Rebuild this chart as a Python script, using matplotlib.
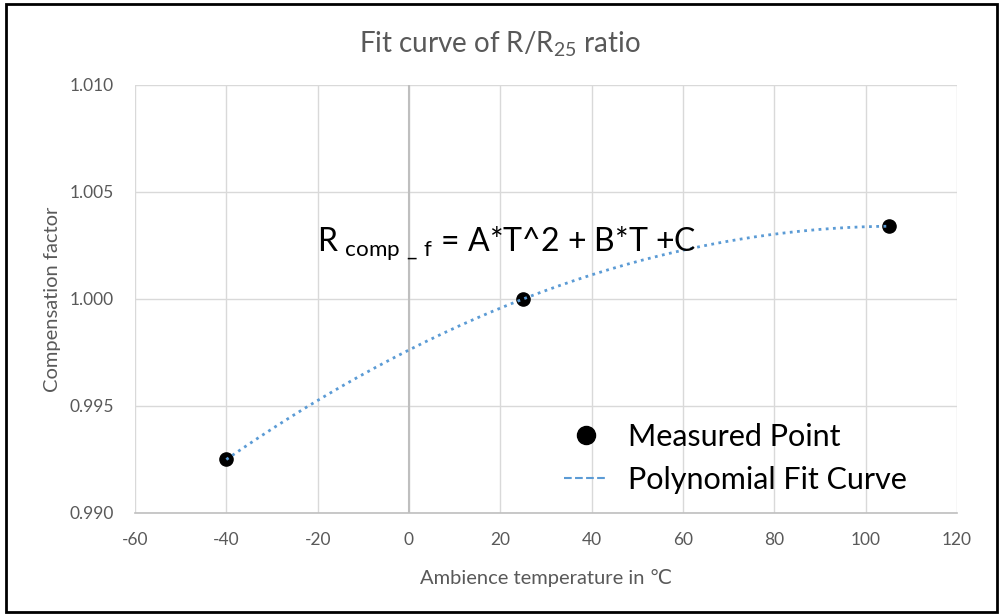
import numpy as np
import matplotlib.pyplot as plt
from matplotlib.lines import Line2D
from matplotlib.patches import Rectangle

plt.rcParams['font.family'] = ['Lato', 'DejaVu Sans']

# measured points
temps = [-40, 25, 105]
factors = [0.9925, 1.0000, 1.0034]

xticks = [-60, -40, -20, 0, 20, 40, 60, 80, 100, 120]
yticks = [0.990, 0.995, 1.000, 1.005, 1.010]

# 2nd order fit like the excel trendline
coef = np.polyfit(temps, factors, 2)
Tfit = np.linspace(min(temps), max(temps), 200)
Rfit = np.polyval(coef, Tfit)

fig = plt.figure(figsize=(9.99, 6.14), dpi=100)
ax = fig.add_axes([0.1351, 0.1645, 0.958 - 0.1351, 0.8616 - 0.1645])

grey = '#595959'
ax.set_xlim(-60, 120)
ax.set_ylim(0.990, 1.010)
ax.set_xticks(xticks)
ax.set_yticks(yticks)
ax.set_xticklabels([str(t) for t in xticks])
ax.set_yticklabels(['%.3f' % t for t in yticks])
ax.tick_params(length=0, labelsize=12.5, colors=grey)
ax.tick_params(axis='x', pad=14)
ax.tick_params(axis='y', pad=15)
ax.grid(True, color='#d9d9d9', lw=1)
ax.set_axisbelow(True)
for s in ['top', 'right', 'left']:
    ax.spines[s].set_visible(False)
ax.spines['bottom'].set_color('#bfbfbf')
ax.spines['bottom'].set_linewidth(1.2)
ax.axvline(0, color='#bfbfbf', lw=1.5, zorder=1)

ax.plot(Tfit, Rfit, ls=(0, (1, 1.6)), color='#5b9bd5', lw=2, zorder=3)
ax.scatter(temps, factors, s=90, color='black', zorder=2)

fig.text(0.5, 1 - 44 / 614, 'Fit curve of R/R$_{\\mathregular{25}}$ ratio', fontsize=20,
         color=grey, ha='center', va='center')
ax.set_xlabel('Ambience temperature in ℃', fontsize=14.5, color=grey, labelpad=15)
ax.set_ylabel('Compensation factor', fontsize=14.5, color=grey, labelpad=6)

ax.text(0.221, 0.628, r'R$_{\mathregular{\ comp\ \_\ f}}$ = A*T^2 + B*T +C',
        transform=ax.transAxes, fontsize=23, color='black', va='center')

handles = [Line2D([], [], marker='o', ls='none', color='black', markersize=13),
           Line2D([], [], ls='--', color='#5b9bd5', lw=1.5)]
ax.legend(handles, ['Measured Point', 'Polynomial Fit Curve'], loc='center left',
          bbox_to_anchor=(0.489, 0.128), frameon=False, fontsize=22,
          handlelength=1.4, handletextpad=0.67, labelspacing=0.5)

fig.patches.append(Rectangle((0.006, 0.004), 0.992, 0.99, transform=fig.transFigure,
                             fill=False, edgecolor='black', lw=2))

fig.savefig('out.png', dpi=100)
